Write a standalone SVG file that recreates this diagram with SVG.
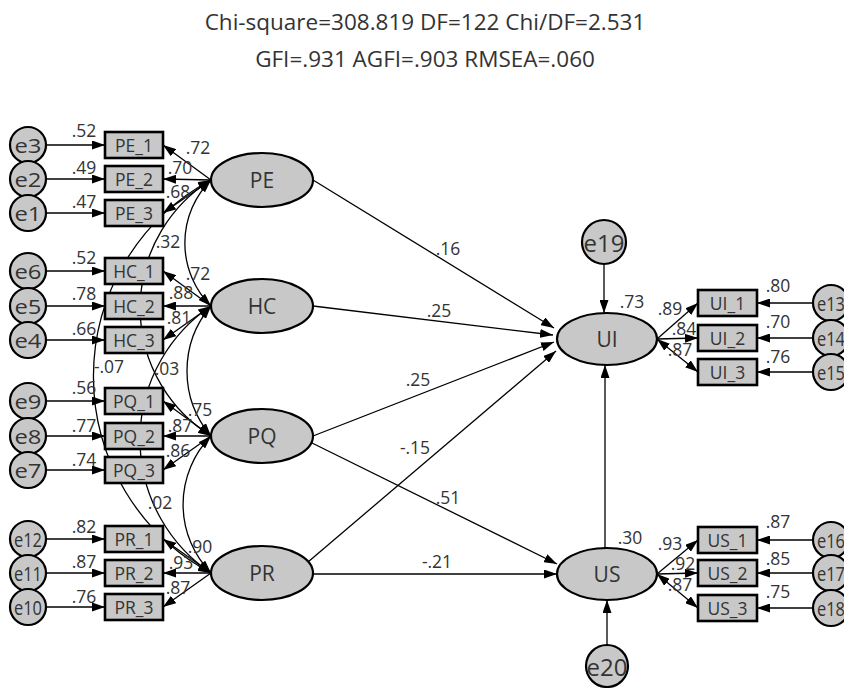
<svg xmlns="http://www.w3.org/2000/svg" width="844" height="688" viewBox="0 0 844 688">
<defs>
<marker id="ah" viewBox="0 0 13 9" refX="13" refY="4.5" markerWidth="13" markerHeight="9" markerUnits="userSpaceOnUse" orient="auto-start-reverse"><path d="M0,0 L13,4.5 L0,9 z" fill="#000"/></marker>
</defs>
<style>
text{font-family:"Open Sans","Liberation Sans",sans-serif;fill:#333;text-anchor:middle;dominant-baseline:central}
.t{font-size:22.5px;dominant-baseline:alphabetic}
.n{font-size:17.5px}
.b{font-size:17.5px}
.l{font-size:21px}
.e{font-size:20px}
.e2{font-size:24px}
.box{fill:#c8c8c8;stroke:#000;stroke-width:2.6}
.ell{fill:#c8c8c8;stroke:#000;stroke-width:2.2}
.err{fill:#c8c8c8;stroke:#000;stroke-width:2.2}
.c path{fill:none;stroke:#000;stroke-width:1.3;marker-end:url(#ah)}
.c path.d{marker-start:url(#ah)}
</style>
<rect width="844" height="688" fill="#fff"/>
<g id="title">
<text class="t" x="425" y="30">Chi-square=308.819 DF=122 Chi/DF=2.531</text>
<text class="t" x="425" y="67">GFI=.931 AGFI=.903 RMSEA=.060</text>
</g>
<g class="c" id="connectors">
<path d="M46,145 L105,145"/><path d="M46,179 L105,179"/><path d="M46,213 L105,213"/>
<path d="M46,271 L105,271"/><path d="M46,306 L105,306"/><path d="M46,340 L105,340"/>
<path d="M46,401 L105,401"/><path d="M46,436 L105,436"/><path d="M46,470 L105,470"/>
<path d="M46,539 L105,539"/><path d="M46,573 L105,573"/><path d="M46,607 L105,607"/>
<path d="M211,180 L163,145"/><path d="M211,180 L163,179"/><path d="M211,180 L163,213"/>
<path d="M211,306 L163,271"/><path d="M211,306 L163,306"/><path d="M211,306 L163,340"/>
<path d="M211,436 L163,401"/><path d="M211,436 L163,436"/><path d="M211,436 L163,470"/>
<path d="M211,573 L163,539"/><path d="M211,573 L163,573"/><path d="M211,573 L163,607"/>
<path class="d" d="M211,180 A89 89 0 0 0 211,306"/>
<path class="d" d="M211,306 A100 100 0 0 0 211,436"/>
<path class="d" d="M211,436 A98 98 0 0 0 211,573"/>
<path class="d" d="M211,180 A151 151 0 0 0 211,436"/>
<path class="d" d="M211,180 A223 223 0 0 0 211,573"/>
<path class="d" d="M211,306 A161 161 0 0 0 211,573"/>
<path d="M313,180 L554,328"/>
<path d="M313,306 L553,335"/>
<path d="M313,436 L554,342"/>
<path d="M308,562 L556,351"/>
<path d="M310,442 L557,564"/>
<path d="M313,574 L557,574"/>
<path d="M604,265 L604,313"/>
<path d="M607,645 L607,600"/>
<path d="M605,548 L605,365"/>
<path d="M657,339 L698,303"/><path d="M657,339 L698,338"/><path class="d" d="M657,339 L698,372"/>
<path d="M657,574 L698,540"/><path d="M657,574 L698,573"/><path class="d" d="M657,574 L698,608"/>
<path d="M813,303 L757,303"/><path d="M813,338 L757,338"/><path d="M813,372 L757,372"/>
<path d="M813,540 L757,540"/><path d="M813,573 L757,573"/><path d="M813,608 L757,608"/>
</g>
<g id="labels">
<text class="n" x="84" y="130">.52</text><text class="n" x="84" y="167">.49</text><text class="n" x="84" y="201">.47</text>
<text class="n" x="84" y="257">.52</text><text class="n" x="84" y="293">.78</text><text class="n" x="84" y="328">.66</text>
<text class="n" x="84" y="387">.56</text><text class="n" x="84" y="425">.77</text><text class="n" x="84" y="459">.74</text>
<text class="n" x="84" y="526">.82</text><text class="n" x="84" y="561">.87</text><text class="n" x="84" y="596">.76</text>
<text class="n" x="198" y="147">.72</text><text class="n" x="180" y="167">.70</text><text class="n" x="178" y="191">.68</text>
<text class="n" x="198" y="273">.72</text><text class="n" x="181" y="292">.88</text><text class="n" x="179" y="317">.81</text>
<text class="n" x="200" y="409">.75</text><text class="n" x="180" y="425">.87</text><text class="n" x="178" y="450">.86</text>
<text class="n" x="200" y="546">.90</text><text class="n" x="181" y="562">.93</text><text class="n" x="178" y="587">.87</text>
<text class="n" x="168" y="241">.32</text><text class="n" x="109" y="366">-.07</text><text class="n" x="167" y="368">.03</text><text class="n" x="160" y="502">.02</text>
<text class="n" x="448" y="248">.16</text><text class="n" x="439" y="310">.25</text><text class="n" x="418" y="379">.25</text>
<text class="n" x="415" y="447">-.15</text><text class="n" x="448" y="497">.51</text><text class="n" x="437" y="561">-.21</text>
<text class="n" x="632" y="301">.73</text><text class="n" x="630" y="537">.30</text>
<text class="n" x="670" y="308">.89</text><text class="n" x="684" y="328">.84</text><text class="n" x="680" y="349">.87</text>
<text class="n" x="670" y="543">.93</text><text class="n" x="683" y="563">.92</text><text class="n" x="680" y="584">.87</text>
<text class="n" x="778" y="285">.80</text><text class="n" x="778" y="321">.70</text><text class="n" x="778" y="356">.76</text>
<text class="n" x="778" y="521">.87</text><text class="n" x="778" y="558">.85</text><text class="n" x="778" y="591">.75</text>
</g>
<g id="e3"><circle class="err" cx="28" cy="145" r="18"/><text class="e" x="28" y="145" textLength="27" lengthAdjust="spacingAndGlyphs">e3</text></g>
<g id="e2"><circle class="err" cx="28" cy="179" r="18"/><text class="e" x="28" y="179" textLength="27" lengthAdjust="spacingAndGlyphs">e2</text></g>
<g id="e1"><circle class="err" cx="28" cy="213" r="18"/><text class="e" x="28" y="213" textLength="27" lengthAdjust="spacingAndGlyphs">e1</text></g>
<g id="e6"><circle class="err" cx="28" cy="271" r="18"/><text class="e" x="28" y="271" textLength="27" lengthAdjust="spacingAndGlyphs">e6</text></g>
<g id="e5"><circle class="err" cx="28" cy="306" r="18"/><text class="e" x="28" y="306" textLength="27" lengthAdjust="spacingAndGlyphs">e5</text></g>
<g id="e4"><circle class="err" cx="28" cy="340" r="18"/><text class="e" x="28" y="340" textLength="27" lengthAdjust="spacingAndGlyphs">e4</text></g>
<g id="e9"><circle class="err" cx="28" cy="401" r="18"/><text class="e" x="28" y="401" textLength="27" lengthAdjust="spacingAndGlyphs">e9</text></g>
<g id="e8"><circle class="err" cx="28" cy="436" r="18"/><text class="e" x="28" y="436" textLength="27" lengthAdjust="spacingAndGlyphs">e8</text></g>
<g id="e7"><circle class="err" cx="28" cy="470" r="18"/><text class="e" x="28" y="470" textLength="27" lengthAdjust="spacingAndGlyphs">e7</text></g>
<g id="e12"><circle class="err" cx="28" cy="539" r="18"/><text class="e" x="28" y="539" textLength="28" lengthAdjust="spacingAndGlyphs">e12</text></g>
<g id="e11"><circle class="err" cx="28" cy="573" r="18"/><text class="e" x="28" y="573" textLength="28" lengthAdjust="spacingAndGlyphs">e11</text></g>
<g id="e10"><circle class="err" cx="28" cy="607" r="18"/><text class="e" x="28" y="607" textLength="28" lengthAdjust="spacingAndGlyphs">e10</text></g>
<g id="PE_1"><rect class="box" x="105" y="132" width="58" height="26"/><text class="b" x="134" y="145">PE_1</text></g>
<g id="PE_2"><rect class="box" x="105" y="166" width="58" height="26"/><text class="b" x="134" y="179">PE_2</text></g>
<g id="PE_3"><rect class="box" x="105" y="200" width="58" height="26"/><text class="b" x="134" y="213">PE_3</text></g>
<g id="HC_1"><rect class="box" x="105" y="258" width="58" height="26"/><text class="b" x="134" y="271">HC_1</text></g>
<g id="HC_2"><rect class="box" x="105" y="293" width="58" height="26"/><text class="b" x="134" y="306">HC_2</text></g>
<g id="HC_3"><rect class="box" x="105" y="327" width="58" height="26"/><text class="b" x="134" y="340">HC_3</text></g>
<g id="PQ_1"><rect class="box" x="105" y="388" width="58" height="26"/><text class="b" x="134" y="401">PQ_1</text></g>
<g id="PQ_2"><rect class="box" x="105" y="423" width="58" height="26"/><text class="b" x="134" y="436">PQ_2</text></g>
<g id="PQ_3"><rect class="box" x="105" y="457" width="58" height="26"/><text class="b" x="134" y="470">PQ_3</text></g>
<g id="PR_1"><rect class="box" x="105" y="526" width="58" height="26"/><text class="b" x="134" y="539">PR_1</text></g>
<g id="PR_2"><rect class="box" x="105" y="560" width="58" height="26"/><text class="b" x="134" y="573">PR_2</text></g>
<g id="PR_3"><rect class="box" x="105" y="594" width="58" height="26"/><text class="b" x="134" y="607">PR_3</text></g>
<g id="PE"><ellipse class="ell" cx="262" cy="180" rx="51" ry="27"/><text class="l" x="262" y="180">PE</text></g>
<g id="HC"><ellipse class="ell" cx="262" cy="306" rx="51" ry="27"/><text class="l" x="262" y="306">HC</text></g>
<g id="PQ"><ellipse class="ell" cx="262" cy="436" rx="51" ry="27"/><text class="l" x="262" y="436">PQ</text></g>
<g id="PR"><ellipse class="ell" cx="262" cy="573" rx="51" ry="27"/><text class="l" x="262" y="573">PR</text></g>
<g id="UI"><ellipse class="ell" cx="607" cy="339" rx="50" ry="26"/><text class="l" x="607" y="339">UI</text></g>
<g id="US"><ellipse class="ell" cx="607" cy="574" rx="50" ry="26"/><text class="l" x="607" y="574">US</text></g>
<g id="e19"><circle class="err" cx="604" cy="242" r="22"/><text class="e2" x="604" y="242">e19</text></g>
<g id="e20"><circle class="err" cx="607" cy="666" r="21"/><text class="e2" x="607" y="666">e20</text></g>
<g id="UI_1"><rect class="box" x="698" y="290" width="59" height="26"/><text class="b" x="727.5" y="303">UI_1</text></g>
<g id="UI_2"><rect class="box" x="698" y="325" width="59" height="26"/><text class="b" x="727.5" y="338">UI_2</text></g>
<g id="UI_3"><rect class="box" x="698" y="359" width="59" height="26"/><text class="b" x="727.5" y="372">UI_3</text></g>
<g id="US_1"><rect class="box" x="698" y="527" width="59" height="26"/><text class="b" x="727.5" y="540">US_1</text></g>
<g id="US_2"><rect class="box" x="698" y="560" width="59" height="26"/><text class="b" x="727.5" y="573">US_2</text></g>
<g id="US_3"><rect class="box" x="698" y="595" width="59" height="26"/><text class="b" x="727.5" y="608">US_3</text></g>
<g id="e13"><circle class="err" cx="831" cy="303" r="18"/><text class="e" x="831" y="303" textLength="28" lengthAdjust="spacingAndGlyphs">e13</text></g>
<g id="e14"><circle class="err" cx="831" cy="338" r="18"/><text class="e" x="831" y="338" textLength="28" lengthAdjust="spacingAndGlyphs">e14</text></g>
<g id="e15"><circle class="err" cx="831" cy="372" r="18"/><text class="e" x="831" y="372" textLength="28" lengthAdjust="spacingAndGlyphs">e15</text></g>
<g id="e16"><circle class="err" cx="831" cy="540" r="18"/><text class="e" x="831" y="540" textLength="28" lengthAdjust="spacingAndGlyphs">e16</text></g>
<g id="e17"><circle class="err" cx="831" cy="573" r="18"/><text class="e" x="831" y="573" textLength="28" lengthAdjust="spacingAndGlyphs">e17</text></g>
<g id="e18"><circle class="err" cx="831" cy="608" r="18"/><text class="e" x="831" y="608" textLength="28" lengthAdjust="spacingAndGlyphs">e18</text></g>
</svg>
